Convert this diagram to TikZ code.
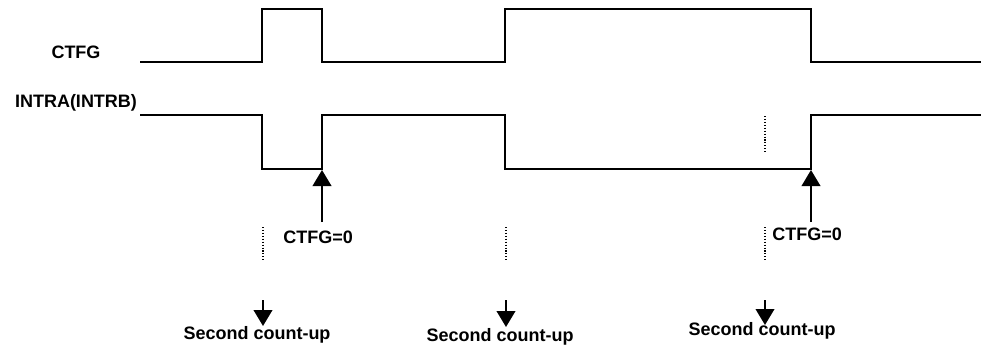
\documentclass[tikz,border=0pt]{standalone}
\usepackage{fontspec}
\setmainfont{Liberation Sans}
\usetikzlibrary{arrows.meta,positioning}

\tikzset{
  wave/.style={line width=1.3pt},
  marker/.style={line width=0.8pt, dash pattern=on 0.8pt off 1.4pt},
  sig/.style={font=\bfseries\fontsize{13.5}{16}\selectfont, inner sep=0pt},
  trig/.style={line width=1.3pt, -{Triangle[width=14pt,length=12pt]}}
}

\begin{document}
\begin{tikzpicture}[x=0.75pt,y=-0.75pt]
    \useasboundingbox (0,0) rectangle (981,347);
    % signal names
    \node[sig] (ctfg) at (76,52) {CTFG};
    \node[sig] (intra) at (76,103) {INTRA(INTRB)};

    % waveforms
    \draw[wave] (140,62) -- (262,62) -- (262,9) -- (322,9) -- (322,62)
        -- (505,62) -- (505,9) -- (811,9) -- (811,62) -- (981,62);
    \draw[wave] (140,115) -- (262,115) -- (262,169) -- (322,169) -- (322,115)
        -- (505,115) -- (505,169) -- (811,169) -- (811,115) -- (981,115);
    \draw[marker] (765,116) -- (765,152);

    % CTFG cleared
    \coordinate (up1) at (322,222);
    \coordinate (rise1) at (322,170);
    \coordinate (up2) at (811,222);
    \coordinate (rise2) at (811,170);
    \draw[trig] (up1) -- (rise1);
    \draw[trig] (up2) -- (rise2);
    \node[sig, anchor=west] (clr1) at (283,237) {CTFG=0};
    \node[sig, anchor=west] (clr2) at (772,234) {CTFG=0};

    % second count-up
    \draw[marker] (263,227) -- (263,262);
    \draw[marker] (506,227) -- (506,262);
    \draw[marker] (765,227) -- (765,262);
    \coordinate (dn1) at (263,300);
    \coordinate (cnt1) at (263,326);
    \coordinate (dn2) at (506,300);
    \coordinate (cnt2) at (506,327);
    \coordinate (dn3) at (765,300);
    \coordinate (cnt3) at (765,325);
    \draw[trig] (dn1) -- (cnt1);
    \draw[trig] (dn2) -- (cnt2);
    \draw[trig] (dn3) -- (cnt3);
    \node[sig] (sec1) at (257,335) {Second count-up};
    \node[sig] (sec2) at (500,337) {Second count-up};
    \node[sig] (sec3) at (762,331) {Second count-up};
\end{tikzpicture}
\end{document}
